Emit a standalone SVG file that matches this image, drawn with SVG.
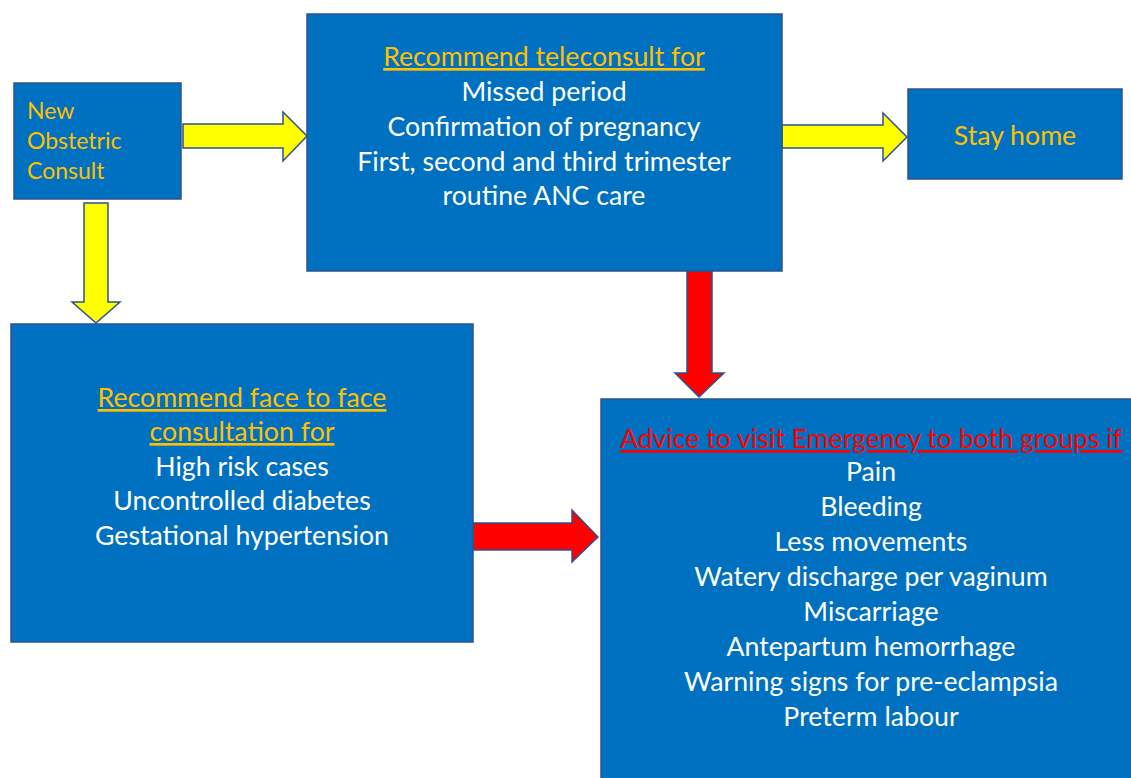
<svg xmlns="http://www.w3.org/2000/svg" width="1131" height="778" viewBox="0 0 1131 778">
<style>
.box{fill:#0070C0;stroke:#2F528F;stroke-width:1.5}
.ya{fill:#FFFF00;stroke:#2F528F;stroke-width:1.5}
.ra{fill:#FF0000;stroke:#2F528F;stroke-width:1.5}
text{font-family:Lato,"Open Sans","Liberation Sans",sans-serif;font-size:26.7px;fill:#FFFFFF;text-anchor:middle}
.gold{fill:#FFC000}
.red{fill:#FF0000}
.u{text-decoration:underline}
.sm{text-anchor:start;font-size:23px}
</style>
<rect width="1131" height="778" fill="#FFFFFF"/>
<g id="connectors">
<polygon class="ya" points="183,124 283,124 283,112 307,136 283,161 283,148 183,148"/>
<polygon class="ya" points="782,125 883,125 883,113 907,137 883,161 883,148 782,148"/>
<polygon class="ya" points="84,203 108,203 108,302 120,302 96,323 72,302 84,302"/>
<polygon class="ra" points="687,271 712,271 712,373 724,373 699,397 675,373 687,373"/>
<polygon class="ra" points="473,523 572,523 572,510 598,537 572,562 572,550 473,550"/>
</g>
<g id="node-new">
<rect class="box" x="14" y="83" width="167" height="116"/>
<text class="gold sm" x="27" y="119">New</text>
<text class="gold sm" x="27" y="149">Obstetric</text>
<text class="gold sm" x="27" y="179">Consult</text>
</g>
<g id="node-tele">
<rect class="box" x="307" y="14" width="475" height="257"/>
<text class="gold u" x="544" y="66">Recommend teleconsult for</text>
<text x="544" y="101">Missed period</text>
<text x="544" y="136">Confirmation of pregnancy</text>
<text x="544" y="171">First, second and third trimester</text>
<text x="544" y="205">routine ANC care</text>
</g>
<g id="node-home">
<rect class="box" x="908" y="89" width="214" height="90"/>
<text class="gold" x="1015" y="145">Stay home</text>
</g>
<g id="node-face">
<rect class="box" x="11" y="324" width="462" height="318"/>
<text class="gold u" x="242" y="407">Recommend face to face</text>
<text class="gold u" x="242" y="441">consultation for</text>
<text x="242" y="476">High risk cases</text>
<text x="242" y="510">Uncontrolled diabetes</text>
<text x="242" y="545">Gestational hypertension</text>
</g>
<g id="node-emergency">
<rect class="box" x="601" y="399" width="540" height="390"/>
<text class="red u" x="871" y="448">Advice to visit Emergency to both groups if</text>
<text x="871" y="481">Pain</text>
<text x="871" y="516">Bleeding</text>
<text x="871" y="551">Less movements</text>
<text x="871" y="586">Watery discharge per vaginum</text>
<text x="871" y="621">Miscarriage</text>
<text x="871" y="656">Antepartum hemorrhage</text>
<text x="871" y="691">Warning signs for pre-eclampsia</text>
<text x="871" y="726">Preterm labour</text>
</g>
</svg>
